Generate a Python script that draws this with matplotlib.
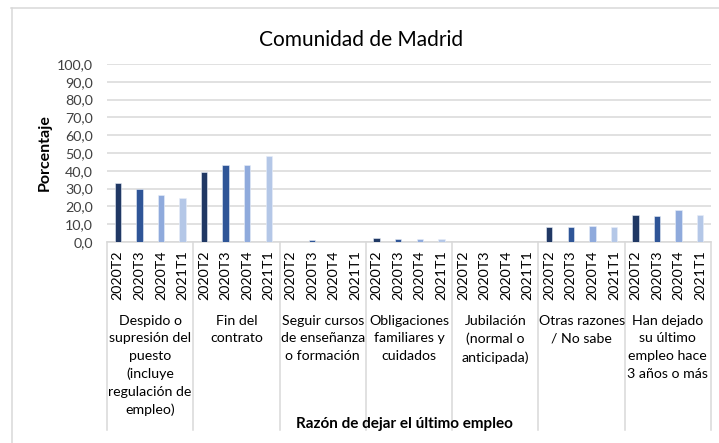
import matplotlib
matplotlib.use("Agg")
import matplotlib.pyplot as plt
from matplotlib.lines import Line2D
import matplotlib.transforms as mtransforms

plt.rcParams['font.family'] = ['Lato', 'DejaVu Sans']

title = "Comunidad de Madrid"
quarters = ["2020T2", "2020T3", "2020T4", "2021T1"]
groups = [
    "Despido o\nsupresión del\npuesto\n(incluye\nregulación de\nempleo)",
    "Fin del\ncontrato",
    "Seguir cursos\nde enseñanza\no formación",
    "Obligaciones\nfamiliares y\ncuidados",
    "Jubilación\n(normal o\nanticipada)",
    "Otras razones\n/ No sabe",
    "Han dejado\nsu último\nempleo hace\n3 años o más",
]
# values[group][quarter]
v_despido = [32.9, 29.7, 26.3, 24.8]
v_fin = [39.2, 43.5, 43.2, 48.2]
v_cursos = [0.0, 0.9, 0.0, 0.0]
v_oblig = [2.3, 1.9, 1.9, 1.9]
v_jubil = [0.0, 0.0, 0.0, 0.0]
v_otras = [8.5, 8.5, 9.0, 8.5]
v_hace3 = [15.2, 14.8, 17.7, 15.2]
values = [v_despido, v_fin, v_cursos, v_oblig, v_jubil, v_otras, v_hace3]
colors = ["#203864", "#2F5597", "#8FAADC", "#B4C7E7"]
yticks = [0, 10, 20, 30, 40, 50, 60, 70, 80, 90, 100]

W, H = 719, 443
fig = plt.figure(figsize=(W / 100, H / 100), dpi=100)
x0, x1, ytop, ybot = 107, 711, 64, 242
ax = fig.add_axes([x0 / W, (H - ybot) / H, (x1 - x0) / W, (ybot - ytop) / H])

xs, hs, cs, labels = [], [], [], []
for gi, g in enumerate(values):
    for qi, v in enumerate(g):
        xs.append(gi * 4 + qi)
        hs.append(v)
        cs.append(colors[qi])
        labels.append(quarters[qi])
ax.bar(xs, hs, width=0.3, color=cs, edgecolor="#E8EEF8", linewidth=0.4, zorder=3)

ax.set_xlim(-0.5, len(xs) - 0.5)
ax.set_ylim(0, 100)
ax.set_yticks(yticks)
ax.set_yticklabels([f"{t:.1f}".replace(".", ",") for t in yticks], fontsize=10.3, color="#404040")
ax.set_xticks(xs)
ax.set_xticklabels(labels, rotation=90, fontsize=10.3, color="#000000")
ax.tick_params(axis="both", length=0)
ax.tick_params(axis="x", pad=6)
ax.tick_params(axis="y", pad=10)
ax.grid(axis="y", color="#D9D9D9", linewidth=1.1, zorder=0)
for s in ["top", "right", "left"]:
    ax.spines[s].set_visible(False)
ax.spines["bottom"].set_color("#D9D9D9")
ax.spines["bottom"].set_linewidth(1.1)

trans = mtransforms.blended_transform_factory(ax.transData, ax.transAxes)
ybottom_sep = (ybot - 430) / (ybot - ytop)
for gi in range(len(groups) + 1):
    xb = gi * 4 - 0.5
    ax.add_line(Line2D([xb, xb], [0, ybottom_sep], transform=trans, color="#D9D9D9",
                       linewidth=1.1, clip_on=False))
ylab = (ybot - 315) / (ybot - ytop)
for gi, g in enumerate(groups):
    ax.text(gi * 4 + 1.5, ylab, g, transform=trans, ha="center", va="top",
            multialignment="center", fontsize=10.2, linespacing=1.55, color="#000000")

fig.text(404 / W, 1 - 424 / H, "Razón de dejar el último empleo", ha="center",
         va="center", fontsize=11, fontweight="bold")
fig.text(45 / W, 1 - 153 / H, "Porcentaje", rotation=90, ha="center", va="center",
         fontsize=11.5, fontweight="bold")
fig.text(361 / W, 1 - 40 / H, title, ha="center", va="center", fontsize=15, color="#000000")

fig.add_artist(Line2D([11.5 / W, 11.5 / W], [0, 1 - 8 / H], transform=fig.transFigure,
                      color="#D9D9D9", linewidth=1.1))
fig.add_artist(Line2D([11 / W, 1], [1 - 8 / H, 1 - 8 / H], transform=fig.transFigure,
                      color="#D9D9D9", linewidth=1.1))

fig.savefig("out.png", dpi=100)
